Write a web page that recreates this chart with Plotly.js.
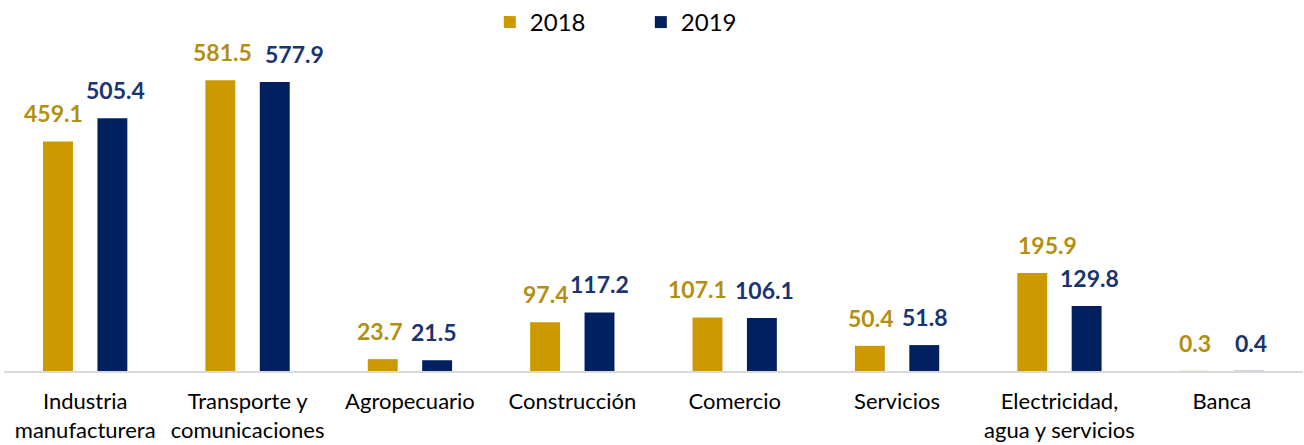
<!DOCTYPE html>
<html><head><meta charset="utf-8">
<script src="https://cdn.plot.ly/plotly-3.0.1.min.js"></script>
<style>html,body{margin:0;padding:0;background:#fff}#c{width:1304px;height:445px}</style>
</head><body><div id="c"></div>
<script>
const categories = ["Industria<br>manufacturera","Transporte y<br>comunicaciones","Agropecuario","Construcción","Comercio","Servicios","Electricidad,<br>agua y servicios","Banca"];
const values2018 = [459.1, 581.5, 23.7, 97.4, 107.1, 50.4, 195.9, 0.3];
const values2019 = [505.4, 577.9, 21.5, 117.2, 106.1, 51.8, 129.8, 0.4];
const seriesNames = ["2018","2019"];
// label horizontal nudges (px, styling only)
const nudge2018 = [-5, 2, -3, 0, -10, 0, 15, 0];
const nudge2019 = [3, 20, -3, 0, 3, 0, 3, 2];

const FONT = "Lato, 'Open Sans', sans-serif";
const traces = [
  {type:'bar', name:seriesNames[0], x:categories, y:values2018, marker:{color:'#CC9900'}, hoverinfo:'y'},
  {type:'bar', name:seriesNames[1], x:categories, y:values2019, marker:{color:'#002060'}, hoverinfo:'y'}
];
const annotations = [];
categories.forEach((c,i)=>{
  annotations.push({x:c, y:values2018[i], xref:'x', yref:'y', text:values2018[i].toFixed(1), showarrow:false, xanchor:'center', yanchor:'bottom', xshift:-27+nudge2018[i], yshift:12, font:{family:FONT, size:23, color:'#B38F0F', weight:'bold'}});
  annotations.push({x:c, y:values2019[i], xref:'x', yref:'y', text:values2019[i].toFixed(1), showarrow:false, xanchor:'center', yanchor:'bottom', xshift:27+nudge2019[i], yshift:12, font:{family:FONT, size:23, color:'#1A3470', weight:'bold'}});
});
const layout = {
  width:1304, height:445,
  margin:{l:4, r:1, t:40, b:74},
  barmode:'group', bargap:0.33, bargroupgap:0.45,
  paper_bgcolor:'#fff', plot_bgcolor:'#fff',
  font:{family:FONT, color:'#000'},
  showlegend:true,
  legend:{orientation:'h', x:0.374, xanchor:'left', y:1.0, yanchor:'top', yref:'container', font:{size:24, family:FONT}, traceorder:'normal', itemwidth:30, entrywidth:106, entrywidthmode:'pixels'},
  xaxis:{type:'category', showline:true, linecolor:'#D9D9D9', linewidth:1.5, ticks:'', showgrid:false, ticklabelstandoff:10, tickfont:{size:22, family:FONT, color:'#000'}, fixedrange:true},
  yaxis:{range:[0,652], visible:false, showgrid:false, zeroline:false, fixedrange:true},
  annotations:annotations
};
Plotly.newPlot('c', traces, layout, {displayModeBar:false, staticPlot:true});
</script></body></html>
